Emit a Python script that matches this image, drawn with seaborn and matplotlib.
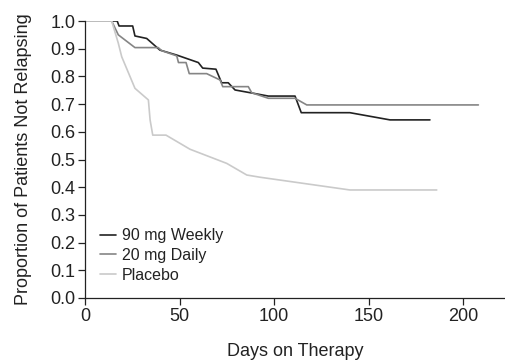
import matplotlib
matplotlib.use("Agg")
import matplotlib.pyplot as plt
import seaborn as sns
import pandas as pd

# Data
weekly_days = [0, 17, 18, 25.2, 26.4, 32.6, 39.6, 48.5, 59.9, 62.2, 69.2, 72.2, 75.7, 79.3, 89, 96.9, 111, 114.3, 140, 161.2, 182.3]
weekly_vals = [1.0, 1.0, 0.982, 0.982, 0.946, 0.937, 0.895, 0.877, 0.85, 0.83, 0.826, 0.777, 0.777, 0.751, 0.739, 0.729, 0.729, 0.669, 0.669, 0.643, 0.643]

daily_days = [0, 14.1, 17.6, 26.4, 38.7, 40.5, 48.5, 49.4, 53.4, 55.1, 64.3, 71.4, 72.8, 86.3, 88.1, 96.9, 111, 117.2, 207.9]
daily_vals = [1.0, 1.0, 0.95, 0.904, 0.904, 0.893, 0.874, 0.85, 0.85, 0.81, 0.81, 0.787, 0.763, 0.763, 0.741, 0.721, 0.721, 0.697, 0.697]

placebo_days = [0, 14.1, 17.6, 19.4, 26.4, 33.5, 34.4, 35.8, 42.8, 55.5, 74.9, 85.5, 92.5, 140, 185.9]
placebo_vals = [1.0, 1.0, 0.92, 0.871, 0.757, 0.715, 0.643, 0.588, 0.588, 0.537, 0.486, 0.444, 0.436, 0.39, 0.39]

series_names = ["90 mg Weekly", "20 mg Daily", "Placebo"]
series_colors = ["#222222", "#858585", "#cacaca"]

frames = []
for name, d, v in [(series_names[0], weekly_days, weekly_vals),
                   (series_names[1], daily_days, daily_vals),
                   (series_names[2], placebo_days, placebo_vals)]:
    frames.append(pd.DataFrame({"day": d, "val": v, "group": name}))
df = pd.concat(frames, ignore_index=True)

sns.set_style("ticks")
plt.rcParams["font.family"] = ["Liberation Sans", "DejaVu Sans"]

fig = plt.figure(figsize=(5.06, 3.62), dpi=100)
ax = fig.add_axes([85/506, 64/362, 1 - 85/506, (298-21)/362])

sns.lineplot(data=df, x="day", y="val", hue="group", hue_order=series_names,
             palette=dict(zip(series_names, series_colors)), sort=False,
             estimator=None, units="group", linewidth=1.2, ax=ax)

ax.set_xlim(0, 222.5)
ax.set_ylim(0, 1.0)
ax.set_xticks([0, 50, 100, 150, 200])
ax.set_yticks([i/10 for i in range(11)])
ax.set_yticklabels([f"{i/10:.1f}" for i in range(11)])
ax.tick_params(axis="both", labelsize=13, colors="#222222", length=5, width=0.9, direction="out", pad=2)
for s in ["left", "bottom"]:
    ax.spines[s].set_linewidth(0.9)
    ax.spines[s].set_color("#222222")
sns.despine(ax=ax)

ax.set_xlabel("Days on Therapy", fontsize=13, color="#222222", labelpad=13)
ax.set_ylabel("Proportion of Patients Not Relapsing", fontsize=13, color="#222222", labelpad=13)

leg = ax.legend(loc="lower left", bbox_to_anchor=(0.035, 0.055), frameon=False, fontsize=11.5,
                handlelength=1.0, handletextpad=0.4, labelspacing=0.3, borderaxespad=0, borderpad=0)
for line in leg.get_lines():
    line.set_linewidth(1.2)
for t in leg.get_texts():
    t.set_color("#222222")

fig.savefig("out.png", dpi=100)
